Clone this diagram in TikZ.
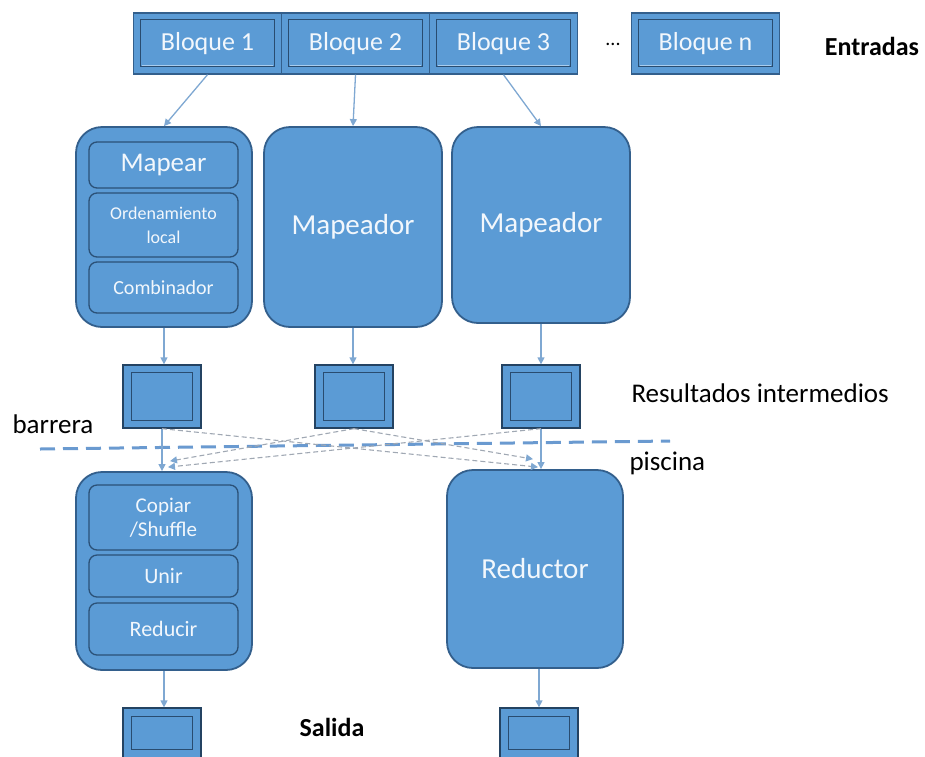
\documentclass[tikz,border=0pt]{standalone}
\usepackage{fontspec}
\setmainfont{Carlito}
\usetikzlibrary{arrows.meta,calc}

\definecolor{caja}{HTML}{5B9BD5}
\definecolor{borde}{HTML}{335F8C}
\definecolor{flecha}{HTML}{7FA8D2}
\definecolor{gris}{HTML}{A0A8B3}
\definecolor{claro}{HTML}{A9CDEE}
\definecolor{barra}{HTML}{6A9AD0}

\tikzset{
  bloque/.style={draw=borde, line width=1.4pt, fill=caja, minimum width=148pt,
    minimum height=61pt, text=white!92!caja, font=\fontsize{26}{28}\selectfont},
  marco/.style={draw=borde!80!black, line width=0.8pt},
  fase/.style={draw=borde, line width=1.8pt, fill=caja, rounded corners=26pt,
    text=white!92!caja, font=\fontsize{29}{31}\selectfont},
  sub/.style={draw=borde!85!black, line width=1.3pt, fill=caja, rounded corners=8pt,
    minimum width=149pt, text=white!92!caja, align=center},
  caja/.style={draw=borde!70!black, line width=1.3pt, fill=caja, minimum width=78pt},
  flecha/.style={draw=flecha, line width=1.3pt, -{Triangle[length=7pt,width=7pt]}},
  punteada/.style={draw=gris, line width=1.1pt, dash pattern=on 5pt off 3pt,
    -{Triangle[length=7pt,width=7pt,color=flecha]}},
  etiqueta/.style={font=\fontsize{27}{29}\selectfont}
}

\begin{document}
\begin{tikzpicture}[x=1pt,y=-1pt]
\useasboundingbox (0,0) rectangle (925,756);
\clip (0,0) rectangle (925,756);

% entradas
\foreach \i/\x/\t in {1/207.5/Bloque 1,2/355.5/Bloque 2,3/503.5/Bloque 3,n/705.5/Bloque n}{
  \node[bloque] (b\i) at (\x,43.5) {\t};
  \draw[marco] ([shift={(8,7)}]b\i.north west) rectangle ([shift={(-8,-8)}]b\i.south east);
  \draw[claro, line width=1.5pt] ([shift={(9,-9)}]b\i.south west) -- ([shift={(-9,-9)}]b\i.south east);
}
\node[font=\fontsize{20}{22}\selectfont] (pts) at (613,44) {...};
\node[etiqueta, font=\bfseries\fontsize{26}{28}\selectfont] (ent) at (872,46) {Entradas};

% mapeadores
\node[fase, minimum width=176pt, minimum height=200pt] (m1) at (164,227) {};
\node[sub, minimum height=46pt, font=\fontsize{27}{29}\selectfont] (m1a) at (163.5,165) {Mapear};
\node[sub, minimum height=64pt, font=\fontsize{18}{24}\selectfont] (m1b) at (163.5,225) {Ordenamiento\\local};
\node[sub, minimum height=51pt, font=\fontsize{20}{22}\selectfont] (m1c) at (163.5,287.5) {Combinador};
\node[fase, minimum width=178pt, minimum height=200pt] (m2) at (353,227) {Mapeador};
\node[fase, minimum width=178pt, minimum height=196pt] (m3) at (541,225) {Mapeador};

\draw[flecha] (b1.south) -- (m1.north);
\draw[flecha] (b2.south) -- (m2.north);
\draw[flecha] (b3.south) -- (m3.north);

% resultados intermedios
\foreach \i/\x in {1/162,2/354,3/541}{
  \node[caja, minimum height=63pt] (k\i) at (\x,396.5) {};
  \draw[marco] ([shift={(9,8)}]k\i.north west) rectangle ([shift={(-9,-8)}]k\i.south east);
}
\draw[flecha] (m1.south) -- (m1.south |- k1.north);
\draw[flecha] (m2.south) -- (m2.south |- k2.north);
\draw[flecha] (m3.south) -- (m3.south |- k3.north);
\node[etiqueta, anchor=west] (res) at (628,393) {Resultados intermedios};

% barrera
\coordinate (ba) at (40,449);
\coordinate (bb) at (670,441);
\draw[barra, line width=3pt, dash pattern=on 15pt off 8pt] (ba) -- (bb);
\node[etiqueta, anchor=west] (bar) at (9,424) {barrera};
\node[etiqueta, anchor=west] (pis) at (626,463) {piscina};

% reductores
\node[fase, minimum width=176pt, minimum height=198pt] (r1) at (164,571) {};
\node[sub, minimum height=65pt, font=\fontsize{21}{24}\selectfont] (r1a) at (163.5,517.5) {Copiar\\/Shuffle};
\node[sub, minimum height=42pt, font=\fontsize{22}{24}\selectfont] (r1b) at (163.5,576) {Unir};
\node[sub, minimum height=52pt, font=\fontsize{22}{24}\selectfont] (r1c) at (163.5,629) {Reducir};
\node[fase, minimum width=176pt, minimum height=198pt] (r2) at (535,569) {Reductor};

\draw[flecha] (k1.south) -- (k1.south |- r1.north);
\draw[flecha] (k3.south) -- (k3.south |- r2.north);
\draw[punteada] (k1.south) -- ([shift={(3,-2)}]r2.north);
\draw[punteada] (k2.south) -- ([shift={(6,-10)}]r1.north);
\draw[punteada] (k2.south) -- ([shift={(-2,-10)}]r2.north);
\draw[punteada] (k3.south) -- ([shift={(4,-4)}]r1.north);

% salida
\foreach \i/\x in {1/162,2/539}{
  \node[caja, minimum height=50pt] (o\i) at (\x,733) {};
  \draw[marco] ([shift={(9,9)}]o\i.north west) rectangle ([shift={(-9,-9)}]o\i.south east);
}
\draw[flecha] (r1.south) -- (r1.south |- o1.north);
\draw[flecha] (o2.north |- r2.south) -- (o2.north);
\node[etiqueta, font=\bfseries\fontsize{26}{28}\selectfont] (sal) at (332,727) {Salida};
\end{tikzpicture}
\end{document}
